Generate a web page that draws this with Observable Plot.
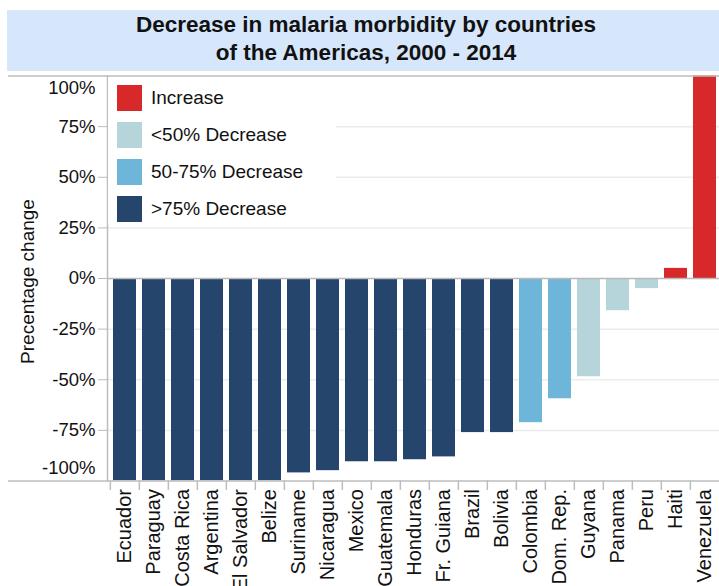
<!DOCTYPE html>
<html>
<head>
<meta charset="utf-8">
<script src="https://cdn.jsdelivr.net/npm/d3@7"></script>
<script src="https://cdn.jsdelivr.net/npm/@observablehq/plot@0.6"></script>
<style>
  html, body { margin: 0; padding: 0; width: 719px; height: 586px; overflow: hidden; background: #fff;
    font-family: "Liberation Sans", Arial, Helvetica, sans-serif; color: #111; }
  #chart { position: absolute; left: 0; top: 0; }
  #title { position: absolute; left: 7px; top: 10px; width: 712px; height: 61px; background: #d6e7fb;
    box-sizing: border-box; padding-top: 1px; text-align: center; font-weight: bold; font-size: 22.5px;
    line-height: 27.7px; color: #111; padding-left: 6px; }
  #legend { position: absolute; left: 108px; top: 77px; width: 228px; height: 147px; background: #fff; }
  .item { position: absolute; left: 9px; height: 26px; display: flex; align-items: center; font-size: 19px; }
  .sw { width: 25px; height: 26px; margin-right: 9px; }
</style>
</head>
<body>
<div id="chart"></div>
<div id="title">Decrease in malaria morbidity by countries<br>of the Americas, 2000 - 2014</div>
<div id="legend"></div>
<script>
// ---- data ----
const countries = ["Ecuador","Paraguay","Costa Rica","Argentina","El Salvador","Belize","Suriname","Nicaragua","Mexico","Guatemala","Honduras","Fr. Guiana","Brazil","Bolivia","Colombia","Dom. Rep.","Guyana","Panama","Peru","Haiti","Venezuela"];
const changes = [-100,-100,-100,-100,-100,-100,-96,-94.9,-90.5,-90.5,-89.5,-88.1,-76.1,-76.1,-71.2,-59.4,-48.5,-15.9,-5,5,150];
const groups = [">75% Decrease",">75% Decrease",">75% Decrease",">75% Decrease",">75% Decrease",">75% Decrease",">75% Decrease",">75% Decrease",">75% Decrease",">75% Decrease",">75% Decrease",">75% Decrease",">75% Decrease",">75% Decrease","50-75% Decrease","50-75% Decrease","<50% Decrease","<50% Decrease","<50% Decrease","Increase","Increase"];
const legendLabels = ["Increase","<50% Decrease","50-75% Decrease",">75% Decrease"];
const legendColors = ["#d7282a","#b5d5db","#6eb6d9","#26456d"];
const yTicksInner = [-75,-50,-25,0,25,50,75];
const yTickTop = [100];
const yTickBottom = [-100];
const gridValues = [-75,-50,-25,25,50,75];
const yTitle = "Precentage change";

const data = countries.map((c, i) => ({country: c, change: changes[i], group: groups[i]}));

// band geometry (for tick marks placed between bars)
const xRange = [107, 722], padIn = 0.21, padOut = 0.1;
const step = (xRange[1] - xRange[0]) / (countries.length - padIn + 2 * padOut);

const chart = Plot.plot({
  width: 719,
  height: 586,
  marginTop: 75.5,
  marginBottom: 105.5,
  marginLeft: 107,
  marginRight: 0,
  style: {fontFamily: "'Liberation Sans', Arial, Helvetica, sans-serif", fontSize: "18px", color: "#111", background: "#fff", overflow: "hidden"},
  x: {domain: countries, range: xRange, paddingInner: padIn, paddingOuter: padOut, axis: null},
  y: {domain: [-100, 100], axis: null},
  color: {domain: legendLabels, range: legendColors},
  marks: [
    Plot.gridY(gridValues, {stroke: "#ececec", strokeOpacity: 1, strokeWidth: 1.5}),
    Plot.barY(data, {x: "country", y: "change", fill: "group", clip: true}),
    Plot.ruleY([0], {stroke: "#b9b9b9", strokeWidth: 1.5}),
    Plot.ruleY([100], {stroke: "#bdbdbd", strokeWidth: 1.5, insetLeft: -99}),
    Plot.ruleY([-100], {stroke: "#bdbdbd", strokeWidth: 1.5, insetLeft: -99}),
    Plot.frame({anchor: "left", stroke: "#bdbdbd", strokeWidth: 1.5}),
    Plot.ruleX(countries, {x: d => d, y1: -100, y2: -104.7, dx: -step / 2, stroke: "#bdbdbd", strokeWidth: 1.5}),
    Plot.axisY(yTicksInner, {tickSize: 9, tickPadding: 3, fontSize: 18.5, stroke: "#bdbdbd", fill: "#111", tickFormat: d => `${d}%`, label: null}),
    Plot.text(yTickTop, {y: d => d, text: d => `${d}%`, frameAnchor: "left", dx: -12, dy: 12, textAnchor: "end", fontSize: 18.5, fill: "#111"}),
    Plot.text(yTickBottom, {y: d => d, text: d => `${d}%`, frameAnchor: "left", dx: -12, dy: -13, textAnchor: "end", fontSize: 18.5, fill: "#111"}),
    Plot.axisX({tickSize: 0, tickPadding: 8, tickRotate: -90, fontSize: 20, fill: "#111", label: null}),
    Plot.text([yTitle], {frameAnchor: "left", dx: -80, dy: 3, rotate: -90, textAnchor: "middle", fontSize: 19, fill: "#111"})
  ]
});
document.getElementById("chart").appendChild(chart);

// legend (inside the plot area, upper left)
const legend = document.getElementById("legend");
legendLabels.forEach((lab, i) => {
  const item = document.createElement("div");
  item.className = "item";
  item.style.top = (8 + i * 37) + "px";
  const sw = document.createElement("div");
  sw.className = "sw";
  sw.style.background = legendColors[i];
  const tx = document.createElement("span");
  tx.textContent = lab;
  item.appendChild(sw);
  item.appendChild(tx);
  legend.appendChild(item);
});
</script>
</body>
</html>
